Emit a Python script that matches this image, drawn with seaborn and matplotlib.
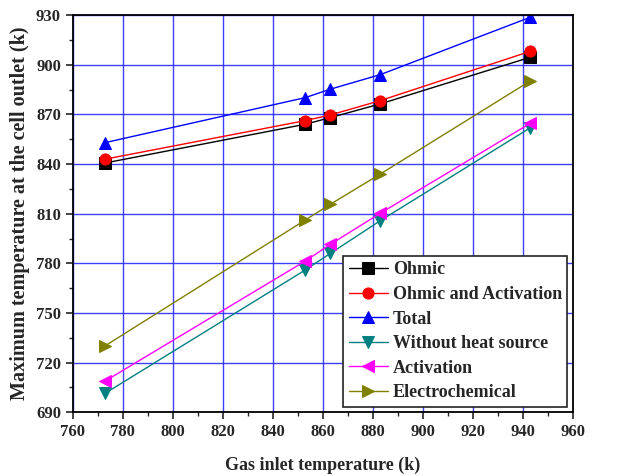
import matplotlib
matplotlib.use("Agg")
import matplotlib.pyplot as plt
import seaborn as sns
import pandas as pd
from matplotlib.ticker import MultipleLocator

# Gas inlet temperatures (k)
inlet_temp = [773, 853, 863, 883, 943]

# Max outlet temperature per case (k)
ohmic = [840.7, 864.1, 868.1, 876.4, 904.6]
ohmic_activation = [843.0, 866.3, 869.7, 878.4, 908.2]
total = [853.0, 880.2, 885.3, 894.1, 928.8]
without_heat = [701.5, 776.0, 786.0, 805.8, 862.0]
activation = [708.9, 781.4, 791.5, 810.3, 864.7]
electrochemical = [730.2, 806.2, 815.7, 834.0, 890.3]

series_names = ["Ohmic", "Ohmic and Activation", "Total",
                "Without heat source", "Activation", "Electrochemical"]
series_values = [ohmic, ohmic_activation, total, without_heat, activation, electrochemical]

colors = ["black", "red", "blue", "#008080", "magenta", "#808000"]
markers = ["s", "o", "^", "v", "<", ">"]

sns.set_theme(style="white")
plt.rcParams['font.family'] = ['Liberation Serif', 'DejaVu Serif']
plt.rcParams['font.weight'] = 'bold'

fig = plt.figure(figsize=(6.22, 4.76), dpi=100)
ax = fig.add_axes([0.117, 0.134, 0.804, 0.834])

for name, vals, c, m in zip(series_names, series_values, colors, markers):
    df = pd.DataFrame({'x': inlet_temp, 'y': vals})
    sns.lineplot(data=df, x='x', y='y', ax=ax, color=c, marker=m, markersize=8,
                 markeredgecolor=c, linewidth=1.0, label=name)

ax.set_xlim(760, 960)
ax.set_ylim(690, 930)
ax.xaxis.set_major_locator(MultipleLocator(20))
ax.xaxis.set_minor_locator(MultipleLocator(10))
ax.yaxis.set_major_locator(MultipleLocator(30))
ax.yaxis.set_minor_locator(MultipleLocator(15))
ax.grid(True, which='major', color='#2a2aff', linewidth=1.0, alpha=0.9)
ax.set_axisbelow(True)

ax.tick_params(axis='both', which='major', direction='out', length=5, width=1.2,
               labelsize=12, bottom=True, left=True, top=False, right=False)
ax.tick_params(axis='both', which='minor', direction='out', length=3, width=1.0,
               bottom=True, left=True, top=False, right=False)
for lbl in ax.get_xticklabels() + ax.get_yticklabels():
    lbl.set_fontweight('bold')

for sp in ax.spines.values():
    sp.set_color('black')
    sp.set_linewidth(1.3)

ax.set_xlabel('Gas inlet temperature (k)', fontsize=13, fontweight='bold', labelpad=12)
ax.set_ylabel('Maximum temperature at the cell outlet (k)', fontsize=14.5, fontweight='bold', labelpad=4)

leg = ax.legend(loc='lower right', fontsize=13, frameon=True, fancybox=False,
                borderpad=0.3, labelspacing=0.42, handlelength=2.2, handletextpad=0.25,
                borderaxespad=0.3)
leg.get_frame().set_edgecolor('#222222')
leg.get_frame().set_linewidth(1.2)
leg.get_frame().set_alpha(1.0)
for t in leg.get_texts():
    t.set_fontweight('bold')

fig.savefig('out.png', dpi=100)
